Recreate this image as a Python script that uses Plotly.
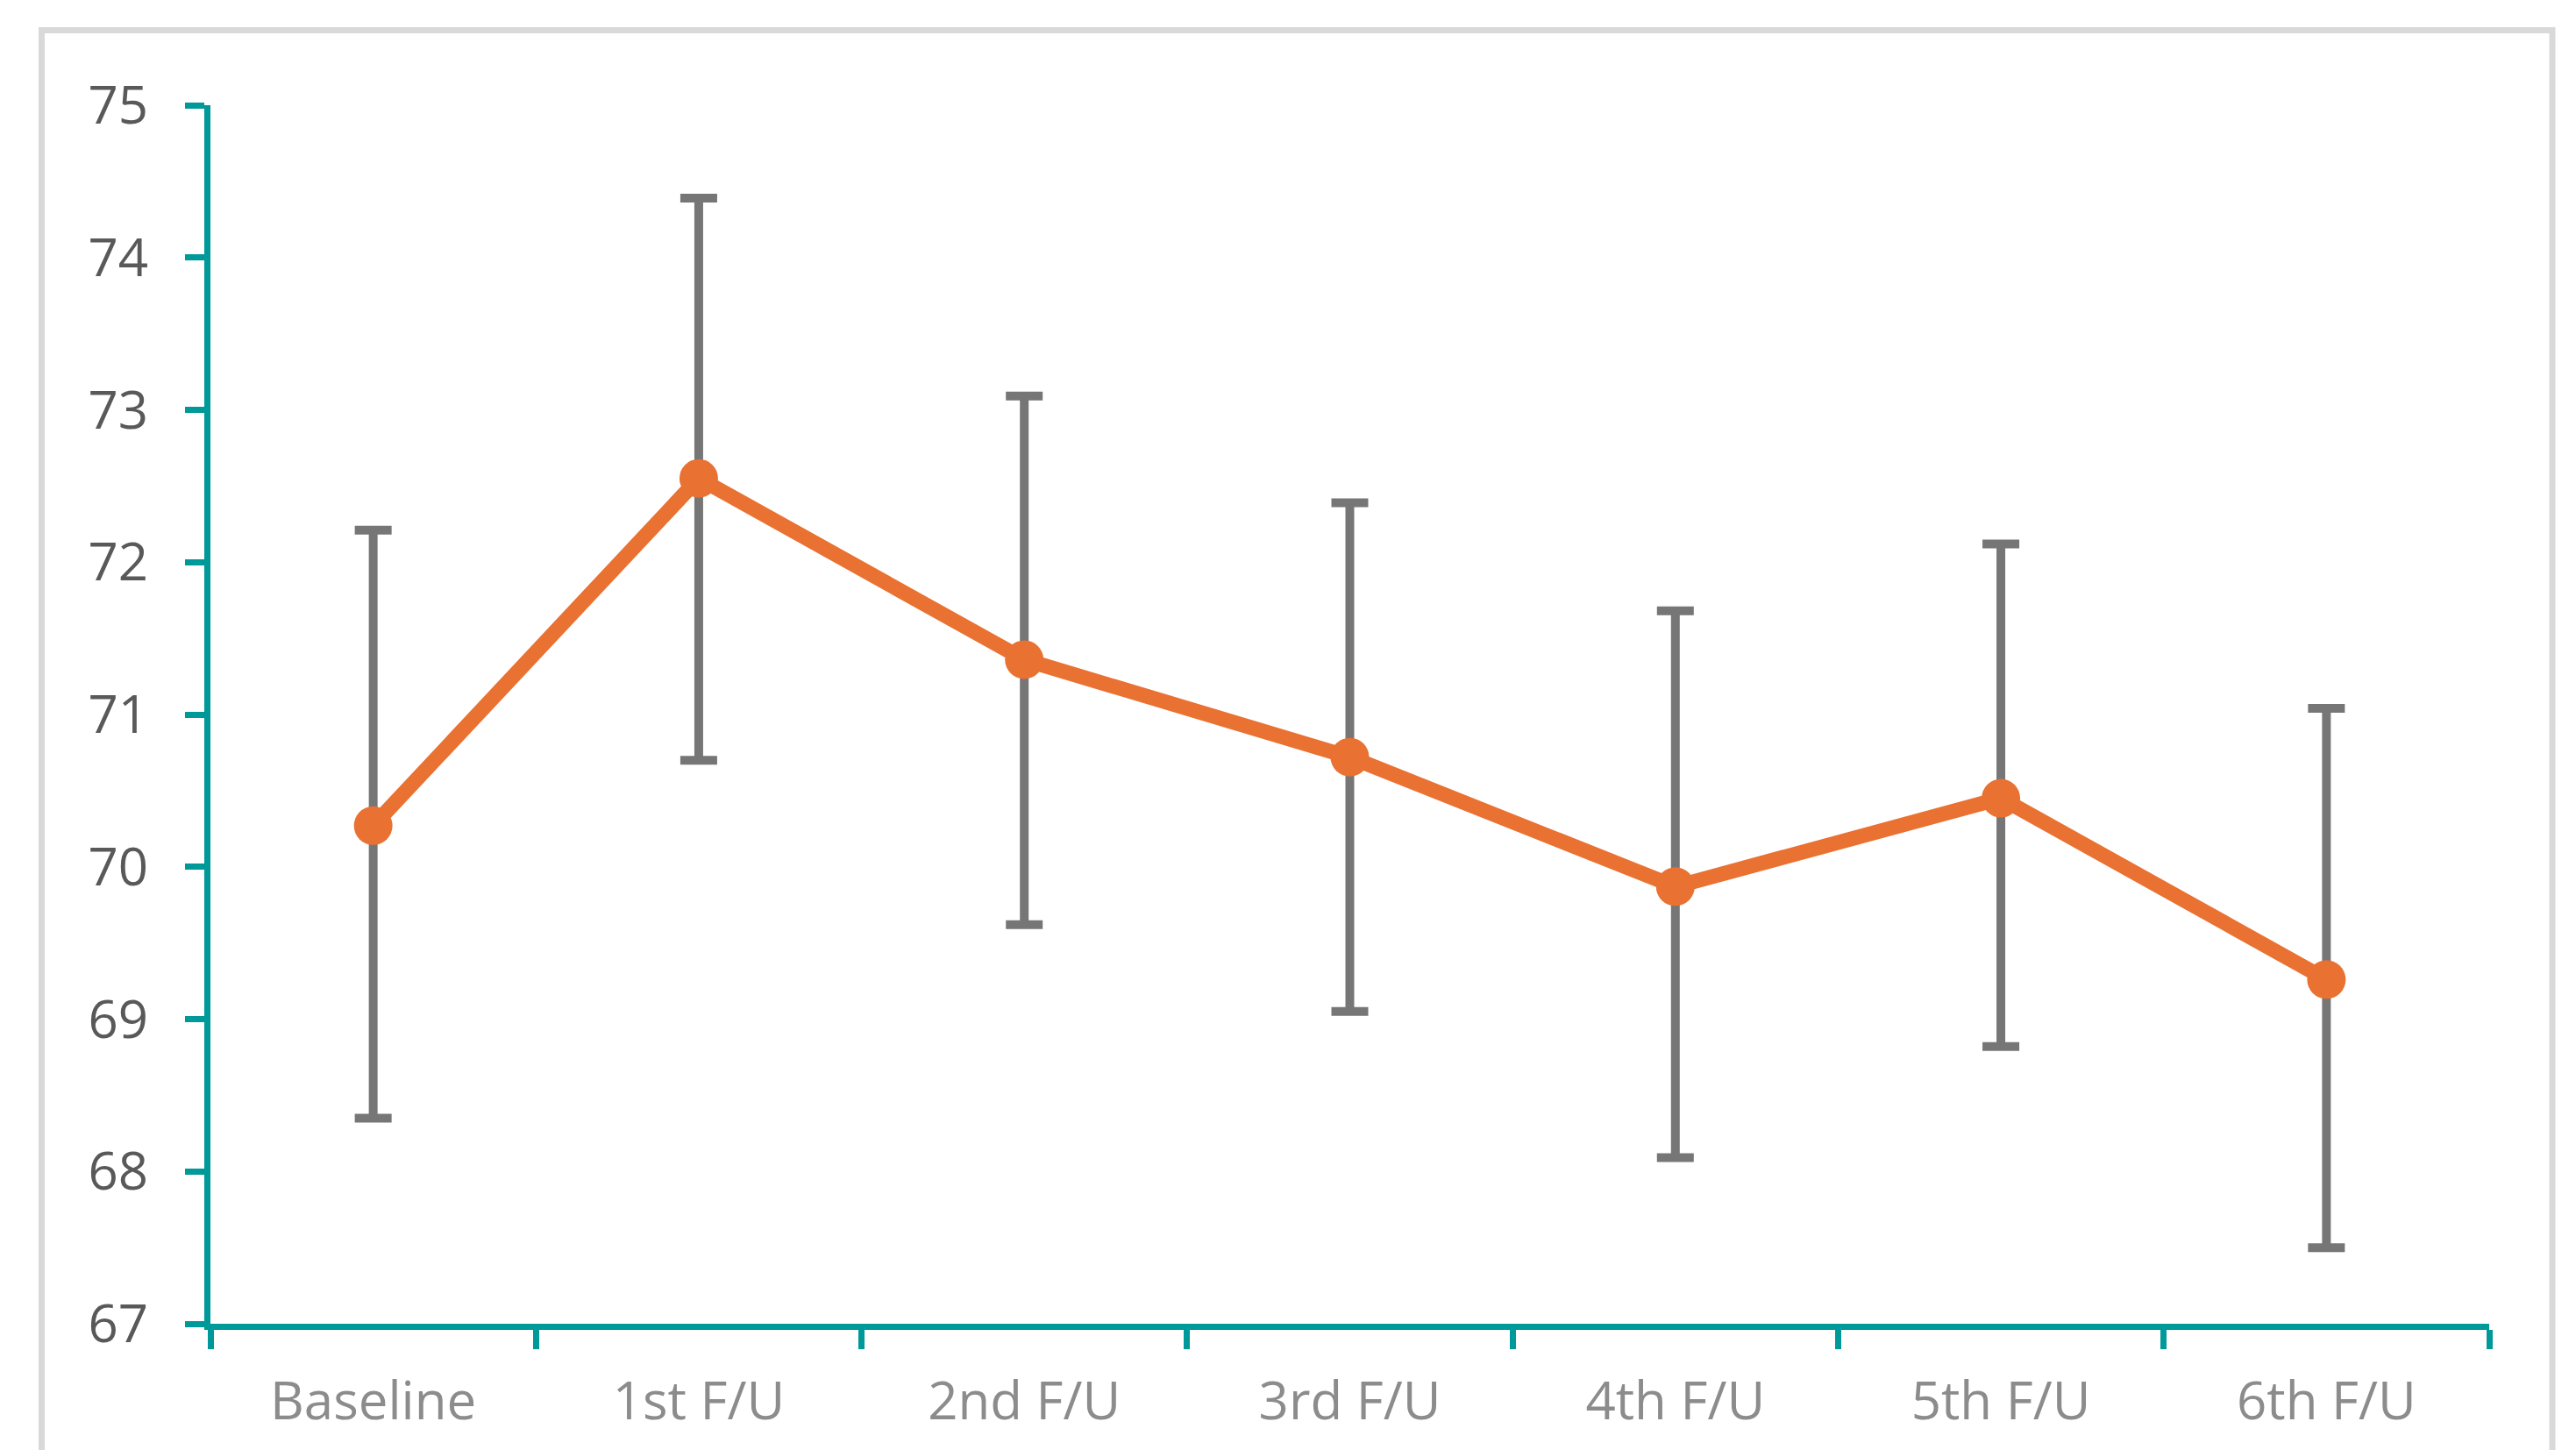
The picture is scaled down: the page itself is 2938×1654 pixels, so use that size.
import plotly.graph_objects as go

categories = ["Baseline", "1st F/U", "2nd F/U", "3rd F/U", "4th F/U", "5th F/U", "6th F/U"]
means = [70.27, 72.55, 71.36, 70.72, 69.87, 70.45, 69.26]
upper = [72.21, 74.39, 73.09, 72.39, 71.68, 72.12, 71.04]
lower = [68.35, 70.70, 69.62, 69.05, 68.09, 68.82, 67.50]
y_ticks = [67, 68, 69, 70, 71, 72, 73, 74, 75]

err_plus = [u - m for u, m in zip(upper, means)]
err_minus = [m - l for m, l in zip(means, lower)]

TEAL = "#009999"
ORANGE = "#E97132"
FONT = "Open Sans"

fig = go.Figure()
fig.add_trace(go.Scatter(
    x=categories, y=means, mode="lines+markers",
    line=dict(color=ORANGE, width=17),
    marker=dict(color=ORANGE, size=44),
    error_y=dict(type="data", symmetric=False, array=err_plus, arrayminus=err_minus,
                 color="#767676", thickness=10, width=21),
    showlegend=False,
))

fig.update_layout(
    width=2938, height=1654,
    margin=dict(l=240, r=99, t=120, b=144),
    paper_bgcolor="white", plot_bgcolor="white",
    font=dict(family=FONT, size=60),
    xaxis=dict(
        type="category", tickson="boundaries", ticks="outside", ticklen=22, tickwidth=7,
        tickcolor=TEAL, showline=True, linecolor=TEAL, linewidth=7, showgrid=False,
        tickfont=dict(family=FONT, size=60, color="#8C8C8C"), range=[-0.5, 6.5],
        ticklabelstandoff=30,
    ),
    yaxis=dict(
        range=[67, 75], tickvals=y_ticks, ticks="outside", ticklen=22, tickwidth=7,
        tickcolor=TEAL, showline=True, linecolor=TEAL, linewidth=7, showgrid=False,
        zeroline=False, tickfont=dict(family=FONT, size=60, color="#595959"),
        ticklabelstandoff=30,
    ),
    shapes=[dict(type="rect", xref="paper", yref="paper",
                 x0=(47.5 - 240) / 2599, x1=(2911 - 240) / 2599,
                 y0=(1510 - 1700) / 1390, y1=(1510 - 34.5) / 1390,
                 line=dict(color="#D9D9D9", width=7), fillcolor="rgba(0,0,0,0)", layer="below")],
)

fig.write_html("out.html", config={"displayModeBar": False},
               post_script="document.body.style.margin='0';document.body.style.overflow='hidden';")
